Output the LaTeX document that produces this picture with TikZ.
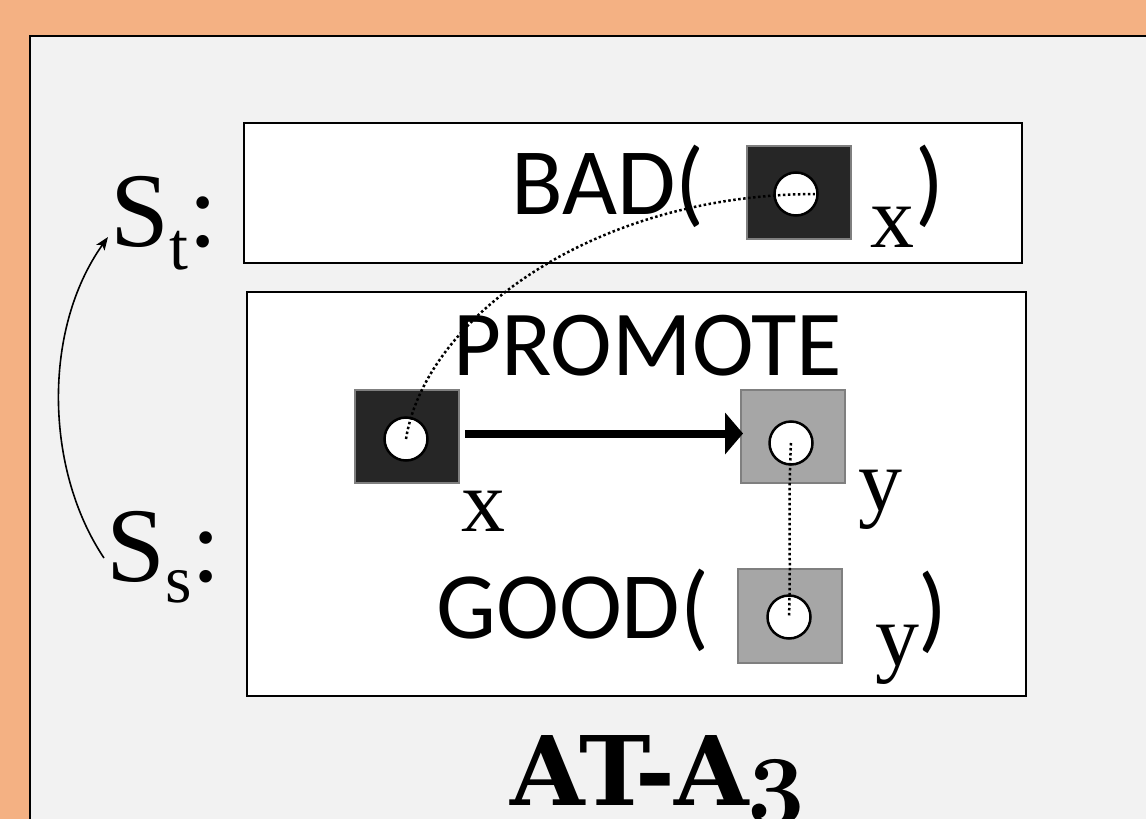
\documentclass[tikz,border=0pt]{standalone}
\usepackage{graphicx}
\usepackage{fontspec}
\setmainfont{Liberation Serif}
\newfontfamily\calib{Carlito}
\newfontfamily\titlefont{DejaVu Serif}
\usetikzlibrary{arrows.meta}
\definecolor{bgorange}{HTML}{F4B183}
\definecolor{panelgrey}{HTML}{F2F2F2}
\definecolor{darksq}{HTML}{262626}
\definecolor{lightsq}{HTML}{A6A6A6}
\definecolor{sqedge}{HTML}{7F7F7F}
\begin{document}
\begin{tikzpicture}[x=1pt,y=-1pt,
  box/.style={draw=black,line width=2.5pt,fill=white,inner sep=0pt},
  sq/.style={draw=sqedge,line width=2pt,inner sep=0pt,minimum width=104pt,minimum height=93pt},
  hole/.style={circle,draw=black,line width=2.5pt,fill=white,inner sep=0pt,minimum size=43pt},
  lbl/.style={anchor=base west,inner sep=0pt},
  sans/.style={font=\calib\fontsize{95}{110}\selectfont},
  serif/.style={font=\fontsize{88}{100}\selectfont},
  big/.style={font=\fontsize{106}{110}\selectfont},
  dotl/.style={line width=2.5pt,dash pattern=on 2.5pt off 2.5pt},
]
\useasboundingbox (0,0) rectangle (1146,819);
\clip (0,0) rectangle (1146,819);
\fill[bgorange] (0,0) rectangle (1146,819);
\filldraw[fill=panelgrey,draw=black,line width=2pt] (30,36) rectangle (1200,900);

% frames
\node[box,minimum width=778pt,minimum height=140pt] (topbox) at (633,193) {};
\node[box,minimum width=779pt,minimum height=404pt] (botbox) at (636.5,494) {};

% texts in frames
\node[lbl,sans] (bad) at (511,214) {BAD(};
\node[lbl,sans] (badclose) at (915,214) {)};
\node[lbl,serif] (xtop) at (870,247) {x};
\node[lbl,sans,font=\calib\fontsize{93}{110}\selectfont] (promote) at (453,375) {PROMOTE};
\node[lbl,sans] (good) at (436,638) {GOOD(};
\node[lbl,sans] (goodclose) at (918,640) {)};
\node[lbl,serif] (xlab) at (461,531) {x};
\node[lbl,serif] (ylab) at (858,510) {y};
\node[lbl,serif] (ybot) at (875,665) {y};

% squares
\node[sq,fill=darksq] (sqBad) at (799,192.5) {};
\node[sq,fill=darksq] (sqX) at (407,436.5) {};
\node[sq,fill=lightsq] (sqY) at (793,436.5) {};
\node[sq,fill=lightsq,minimum height=94pt] (sqGood) at (790,615.5) {};

% holes
\node[hole] (cBad) at (796,194) {};
\node[hole] (cX) at (406,439) {};
\node[hole] (cY) at (791,443) {};
\node[hole] (cGood) at (789,617) {};

% connectors
\draw[line width=8pt,-{Triangle[length=18pt,width=41pt]}]
  ([xshift=5pt,yshift=3pt]sqX.east) -- ([xshift=3pt,yshift=3pt]sqY.west);
\draw[dotl] (cX.center) .. controls (425,320) and (590,195) .. ([xshift=-4pt]cBad.east);
\draw[dotl] (cY.center) .. controls (788,500) and (791,560) .. (cGood.center);

% state labels
\node[lbl,big] (St) at (110,246) {S\raisebox{-23pt}{\fontsize{68}{68}\selectfont t}:};
\node[lbl,big] (Ss) at (106,581) {S\raisebox{-21pt}{\fontsize{68}{68}\selectfont s}:};
\draw[line width=1.6pt,-{Stealth[length=13pt,width=10pt,inset=3pt]}]
  ([xshift=-2pt,yshift=23pt]Ss.base west) .. controls (45,470) and (42,330) .. ([xshift=-2pt,yshift=9pt]St.base west);

% title
\node[lbl,font=\titlefont\fontsize{96}{100}\selectfont\bfseries] (title) at (510,805)
  {AT-A\kern-2pt{\fontsize{10}{10}\usefont{OML}{cmm}{b}{it}\scalebox{10}{3}}};
\end{tikzpicture}
\end{document}
